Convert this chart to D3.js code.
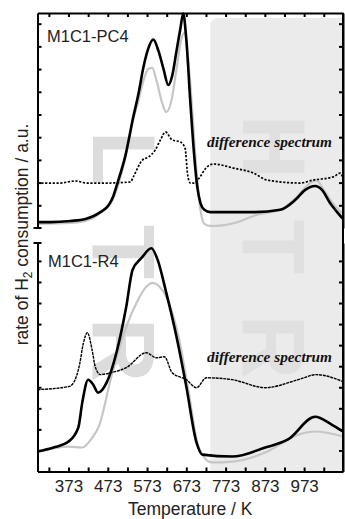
<!DOCTYPE html>
<html>
<head>
<meta charset="utf-8">
<script src="https://cdn.jsdelivr.net/npm/d3@7"></script>
<style>
  html, body { margin: 0; padding: 0; background: #fff; }
  svg { display: block; }
  .axis path, .axis line { stroke: #000; stroke-width: 2; }
  .axis text { font-family: "Liberation Sans", Arial, sans-serif; font-size: 17px; fill: #222; }
</style>
</head>
<body>
<div id="chart"></div>
<script>
// ---- data (temperature in K, signal in a.u.) ----
const xTickValues = [373, 473, 573, 673, 773, 873, 973];
const xMinorTicks = d3.range(323, 1073, 50);
const panelTitles = ['M1C1-PC4', 'M1C1-R4'];
const diffLabel = 'difference spectrum';
const watermarkLeft = ['L', 'T', 'R'];
const watermarkRight = ['H', 'T', 'R'];

// top panel: M1C1-PC4
const pc4BlackT = [294, 327, 378, 416, 437, 454, 475, 487, 498, 518, 538, 551, 564, 576, 589, 602, 615, 627, 637, 648, 658, 665, 673, 683, 693, 701, 709, 719, 734, 785, 848, 912, 950, 975, 1001, 1019, 1039, 1057, 1072];
const pc4Black = [0.26, 0.26, 0.31, 0.4, 0.53, 0.7, 1.0, 1.4, 2.0, 3.2, 4.9, 5.9, 7.1, 7.9, 8.3, 7.8, 7.0, 6.3, 6.7, 7.8, 8.8, 9.45, 8.3, 5.6, 3.2, 1.8, 1.1, 0.8, 0.7, 0.7, 0.7, 0.8, 1.23, 1.67, 1.85, 1.67, 1.1, 0.7, 0.4];
const pc4GreyT = [294, 378, 416, 454, 487, 518, 538, 551, 564, 576, 586, 597, 610, 622, 635, 648, 660, 668, 678, 688, 698, 709, 719, 734, 770, 810, 850, 912, 950, 990, 1005, 1020, 1040, 1072];
const pc4Grey = [0.18, 0.22, 0.31, 0.66, 1.3, 3.1, 4.8, 5.6, 6.5, 7.0, 7.05, 6.5, 5.6, 5.1, 5.6, 7.0, 8.3, 8.6, 7.4, 5.2, 2.7, 0.8, 0.18, 0.09, 0.13, 0.3, 0.57, 0.8, 1.3, 2.0, 2.1, 1.76, 1.23, 0.6];
const pc4DiffT = [294, 350, 390, 420, 470, 531, 538, 561, 576, 594, 607, 620, 637, 658, 670, 676, 683, 693, 706, 721, 742, 793, 844, 879, 963, 996, 1047, 1065, 1072];
const pc4Diff = [1.98, 1.98, 2.07, 1.98, 1.98, 2.03, 2.25, 2.99, 3.12, 3.44, 3.88, 4.23, 3.88, 3.79, 3.5, 2.4, 1.98, 1.98, 2.2, 2.6, 2.82, 2.64, 2.42, 2.11, 1.98, 2.11, 2.25, 2.42, 2.2];

// bottom panel: M1C1-R4
const r4BlackT = [294, 335, 373, 398, 408, 423, 436, 448, 470, 495, 520, 536, 559, 584, 600, 622, 648, 673, 699, 714, 790, 874, 932, 1001, 1043, 1072];
const r4Black = [0.95, 1.14, 1.42, 2.09, 3.27, 4.36, 4.12, 3.74, 4.22, 5.64, 7.82, 9.57, 10.14, 10.6, 10.05, 8.48, 6.4, 4.03, 1.37, 0.8, 0.71, 1.14, 1.52, 2.6, 2.23, 1.9];
const r4GreyT = [294, 373, 408, 430, 452, 480, 520, 546, 571, 587, 622, 655, 678, 704, 737, 790, 874, 958, 1001, 1072];
const r4Grey = [0.95, 1.18, 1.14, 1.52, 2.23, 4.36, 6.87, 8.0, 8.77, 8.96, 8.29, 6.26, 3.89, 1.18, 0.43, 0.47, 0.9, 1.75, 1.9, 1.66];
const r4DiffT = [294, 373, 386, 401, 411, 421, 433, 441, 454, 480, 520, 571, 597, 617, 637, 673, 699, 724, 790, 874, 958, 1004, 1072];
const r4Diff = [3.89, 4.03, 4.22, 5.07, 6.11, 6.59, 5.78, 4.98, 4.6, 4.69, 4.93, 5.64, 5.4, 5.45, 4.69, 4.36, 3.98, 4.45, 4.36, 3.98, 4.36, 4.6, 4.27];

const htrStart = 734; // start of shaded high-temperature region

// ---- layout ----
const width = 345, height = 519;
const left = 37.5, right = 343;

const svg = d3.select('#chart').append('svg')
  .attr('width', width)
  .attr('height', height);

const x = d3.scaleLinear().domain([294, 1072]).range([left, right]);
const yTop = d3.scaleLinear().domain([0, 9.47]).range([228, 13]);
const yBot = d3.scaleLinear().domain([0, 10.85]).range([471.5, 243]);

// shaded region
svg.append('path')
  .attr('fill', '#ebebeb')
  .attr('d', () => {
    const x0 = x(htrStart), y0 = 18, r = 8;
    return `M${x0},471.5 V${y0 + r} Q${x0},${y0} ${x0 + r},${y0} H${right} V471.5 Z`;
  });

// big watermark letters
function watermark(letters, cx, centers, color) {
  letters.forEach((ch, i) => {
    svg.append('text')
      .attr('transform', `translate(${cx},${centers[i]}) rotate(90)`)
      .attr('text-anchor', 'middle')
      .attr('dy', '0.36em')
      .style('font-family', '"Liberation Sans", Arial, sans-serif')
      .style('font-weight', 'bold')
      .style('font-size', '89px')
      .style('fill', color)
      .text(ch);
  });
}
watermark(watermarkLeft, 125, [158, 252, 350], '#dcdcdc');
watermark(watermarkRight, 275, [147, 247, 347], '#e0e0e0');

// curves
function drawCurve(ts, vs, y, style) {
  const pts = ts.map((t, i) => [t, vs[i]]);
  const line = d3.line()
    .x(d => x(d[0]))
    .y(d => y(d[1]))
    .curve(d3.curveMonotoneX);
  svg.append('path')
    .datum(pts)
    .attr('fill', 'none')
    .attr('stroke', style.color)
    .attr('stroke-width', style.w)
    .attr('stroke-dasharray', style.dash || null)
    .attr('stroke-linejoin', 'round')
    .attr('d', line);
}

const greyStyle = { color: '#c6c6c6', w: 2.2 };
const blackStyle = { color: '#000', w: 2.6 };

drawCurve(pc4GreyT, pc4Grey, yTop, greyStyle);
drawCurve(pc4BlackT, pc4Black, yTop, blackStyle);
drawCurve(pc4DiffT, pc4Diff, yTop, { color: '#000', w: 1.7, dash: '2.2,1.6' });

drawCurve(r4GreyT, r4Grey, yBot, greyStyle);
drawCurve(r4BlackT, r4Black, yBot, blackStyle);
drawCurve(r4DiffT, r4Diff, yBot, { color: '#000', w: 1.4, dash: '3,0.8' });

// axes
const tickFmt = () => '';

svg.append('g').attr('class', 'axis')
  .attr('transform', `translate(0,${yTop.range()[1]})`)
  .call(d3.axisBottom(x).tickValues(xMinorTicks).tickSize(4).tickSizeOuter(0).tickFormat(tickFmt));

svg.append('g').attr('class', 'axis')
  .attr('transform', `translate(0,${yBot.range()[0]})`)
  .call(d3.axisTop(x).tickValues(xMinorTicks).tickSize(4).tickSizeOuter(0).tickFormat(tickFmt));

const labelAxis = svg.append('g').attr('class', 'axis')
  .attr('transform', `translate(0,${yBot.range()[0]})`)
  .call(d3.axisBottom(x).tickValues(xTickValues).tickSize(0).tickPadding(8.5));
labelAxis.select('.domain').remove();

[[yTop, d3.range(1, 10)], [yBot, d3.range(1, 11)]].forEach(([y, tv]) => {
  svg.append('g').attr('class', 'axis')
    .attr('transform', `translate(${left},0)`)
    .call(d3.axisRight(y).tickValues(tv).tickSize(4).tickSizeOuter(0).tickFormat(tickFmt));
  svg.append('g').attr('class', 'axis')
    .attr('transform', `translate(${right},0)`)
    .call(d3.axisLeft(y).tickValues(tv).tickSize(4).tickSizeOuter(0).tickFormat(tickFmt));
});

// right frame joining both panels, end caps on the left axes
svg.append('line')
  .attr('x1', right).attr('x2', right)
  .attr('y1', yTop.range()[1]).attr('y2', yBot.range()[0])
  .attr('stroke', '#000').attr('stroke-width', 2);
[yTop.range()[0], yBot.range()[1]].forEach(yy => {
  svg.append('line')
    .attr('x1', left - 4).attr('x2', left + 4)
    .attr('y1', yy).attr('y2', yy)
    .attr('stroke', '#000').attr('stroke-width', 2);
});

// panel titles
const sans = '"Liberation Sans", Arial, sans-serif';
svg.append('text').attr('x', 47).attr('y', 42)
  .style('font-family', sans).style('font-size', '16.5px').style('fill', '#222')
  .text(panelTitles[0]);
svg.append('text').attr('x', 48).attr('y', 267)
  .style('font-family', sans).style('font-size', '16.5px').style('fill', '#222')
  .text(panelTitles[1]);

// difference spectrum labels
[147, 362].forEach(yy => {
  svg.append('text').attr('x', 207).attr('y', yy)
    .attr('textLength', 125).attr('lengthAdjust', 'spacingAndGlyphs')
    .style('font-family', '"Liberation Serif", "Times New Roman", serif')
    .style('font-style', 'italic').style('font-weight', 'bold')
    .style('font-size', '14.5px').style('fill', '#111')
    .text(diffLabel);
});

// axis titles
svg.append('text')
  .attr('x', (left + right) / 2).attr('y', 515)
  .attr('text-anchor', 'middle')
  .style('font-family', sans).style('font-size', '17.5px').style('fill', '#222')
  .text('Temperature / K');

const yTitle = svg.append('text')
  .attr('transform', `translate(28,${(117 + 352) / 2}) rotate(-90)`)
  .attr('text-anchor', 'middle')
  .style('font-family', sans).style('font-size', '17.5px').style('fill', '#222');
yTitle.append('tspan').text('rate of H');
yTitle.append('tspan').attr('dy', 4).style('font-size', '12px').text('2');
yTitle.append('tspan').attr('dy', -4).text(' consumption / a.u.');
</script>
</body>
</html>
